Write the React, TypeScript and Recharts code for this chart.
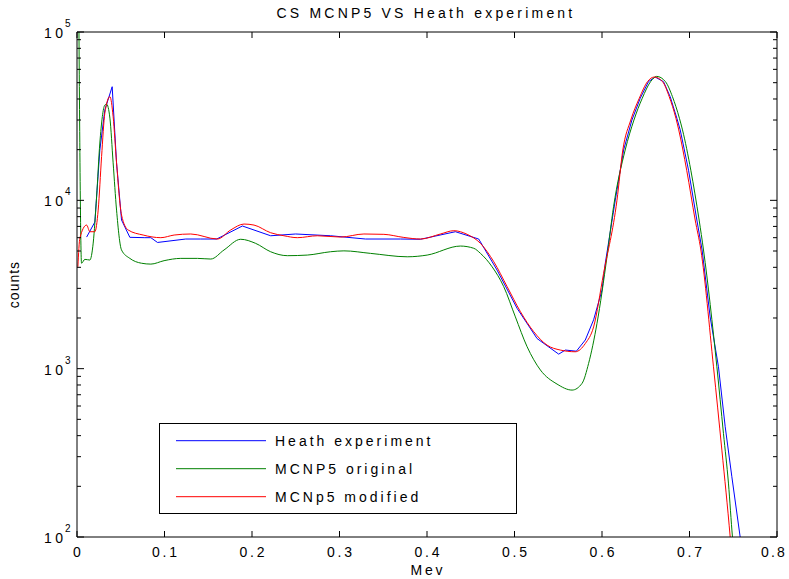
import React from 'react';
import { LineChart, Line, XAxis, YAxis } from 'recharts';

// energies (MeV) and counts
const heathX = [0.011, 0.0204, 0.0261, 0.0318, 0.0402, 0.0452, 0.0509, 0.0604, 0.0775, 0.0844, 0.092, 0.1243, 0.1414, 0.1597, 0.189, 0.2213, 0.2499, 0.2898, 0.3298, 0.3697, 0.3926, 0.4325, 0.4591, 0.4801, 0.503, 0.5258, 0.5505, 0.5581, 0.5707, 0.5809, 0.5904, 0.6, 0.6038, 0.6152, 0.6247, 0.6342, 0.6437, 0.6531, 0.6608, 0.6703, 0.6779, 0.6856, 0.6894, 0.6989, 0.7084, 0.7144, 0.7236, 0.7331, 0.7408, 0.7484, 0.7579, 0.764];
const heathY = [6050, 7430, 19900, 34400, 47300, 16700, 7640, 6030, 6000, 6000, 5620, 5890, 5890, 5890, 7040, 6160, 6310, 6160, 5890, 5890, 5870, 6510, 5890, 3850, 2280, 1510, 1220, 1290, 1270, 1480, 1950, 2930, 4240, 10050, 19900, 30000, 40400, 50700, 54000, 50700, 41300, 30700, 26200, 15100, 7640, 5070, 2030, 1026, 452, 228, 100, 70];

const originalX = [0.002, 0.0052, 0.009, 0.0147, 0.0185, 0.0224, 0.0261, 0.0318, 0.0338, 0.0376, 0.0413, 0.0452, 0.0509, 0.0604, 0.0737, 0.0844, 0.0995, 0.1186, 0.1377, 0.1529, 0.168, 0.1871, 0.2042, 0.2213, 0.2404, 0.2632, 0.2898, 0.305, 0.3355, 0.3774, 0.4002, 0.4382, 0.4534, 0.4611, 0.4744, 0.4877, 0.501, 0.5144, 0.5296, 0.5486, 0.5658, 0.5772, 0.5847, 0.5943, 0.6057, 0.6132, 0.6265, 0.6365, 0.646, 0.6555, 0.6625, 0.6725, 0.6805, 0.6885, 0.692, 0.7015, 0.711, 0.716, 0.7313, 0.7388, 0.7445, 0.7491, 0.752];
const originalY = [150000, 4230, 4460, 4420, 5570, 10500, 21900, 36800, 37300, 30800, 16700, 8750, 5070, 4520, 4230, 4180, 4380, 4520, 4520, 4480, 5070, 5870, 5550, 4950, 4690, 4730, 4950, 5010, 4840, 4620, 4730, 5350, 5190, 4840, 4030, 3070, 2030, 1350, 982, 810, 746, 818, 1075, 1860, 4620, 9160, 19900, 30000, 40400, 50700, 54500, 50700, 41300, 30700, 26200, 15100, 7640, 5070, 1026, 413, 209, 100, 70];

const modifiedX = [0.001, 0.0033, 0.011, 0.0147, 0.0204, 0.0242, 0.0281, 0.0318, 0.0376, 0.0413, 0.0452, 0.0509, 0.0584, 0.0756, 0.0958, 0.111, 0.13, 0.1605, 0.1757, 0.1909, 0.2023, 0.2213, 0.2365, 0.2518, 0.2747, 0.3013, 0.3279, 0.3507, 0.3735, 0.3926, 0.4154, 0.4306, 0.4459, 0.4611, 0.4763, 0.4916, 0.5068, 0.5219, 0.5372, 0.5524, 0.5695, 0.5809, 0.5904, 0.6018, 0.6171, 0.6238, 0.6329, 0.6426, 0.652, 0.6597, 0.6692, 0.6768, 0.6845, 0.6877, 0.6968, 0.7065, 0.713, 0.7274, 0.737, 0.7465, 0.749];
const modifiedY = [4030, 5970, 7130, 6510, 6510, 8750, 18200, 32900, 41300, 31400, 16700, 8180, 6670, 6220, 6000, 6220, 6310, 5890, 6670, 7230, 7130, 6420, 6160, 6000, 6160, 6050, 6310, 6280, 6020, 5890, 6310, 6600, 6280, 5550, 4320, 3070, 2180, 1660, 1380, 1290, 1260, 1410, 1770, 3680, 10000, 19900, 30000, 40400, 50700, 54000, 50700, 41300, 30700, 26200, 15100, 7640, 5070, 1026, 328, 100, 70];

const xTicks = [0, 0.1, 0.2, 0.3, 0.4, 0.5, 0.6, 0.7, 0.8];
const decades = [100, 1000, 10000];
const yTicks = [...decades.flatMap((d) => [1, 2, 3, 4, 5, 6, 7, 8, 9].map((k) => k * d)), 100000];

const toPoints = (xs: number[], ys: number[]) => xs.map((x, i) => ({ x, y: ys[i] }));
const heath = toPoints(heathX, heathY);
const original = toPoints(originalX, originalY);
const modified = toPoints(modifiedX, modifiedY);

const FONT = '"Liberation Sans", Arial, sans-serif';
const isMajor = (v: number) => Math.abs(Math.log10(v) - Math.round(Math.log10(v))) < 1e-6;

const BottomTick = ({ x, y, payload, index }: any) => {
  const last = index === xTicks.length - 1;
  return (
    <g>
      <line x1={x} x2={x} y1={y} y2={y - 6} stroke="#000" />
      <text
        x={last ? x + 10 : x + 1.4}
        y={y + 20}
        textAnchor={last ? 'end' : 'middle'}
        fontSize={14}
        letterSpacing={last ? 2.2 : 2.8}
        fill="#000"
      >
        {String(payload.value)}
      </text>
    </g>
  );
};

const TopTick = ({ x, y }: any) => <line x1={x} x2={x} y1={y} y2={y + 6} stroke="#000" />;

const LeftTick = ({ x, y, payload }: any) => {
  const v = payload.value;
  if (!isMajor(v)) return <line x1={x} x2={x + 4} y1={y} y2={y} stroke="#000" />;
  return (
    <g>
      <line x1={x} x2={x + 7} y1={y} y2={y} stroke="#000" />
      <text x={x - 33} y={y + 6} fontSize={14} fill="#000">
        1<tspan dx={3.5}>0</tspan>
      </text>
      <text x={x - 12} y={y - 5} fontSize={10} fill="#000">{Math.round(Math.log10(v))}</text>
    </g>
  );
};

const RightTick = ({ x, y, payload }: any) => (
  <line x1={x} x2={x - (isMajor(payload.value) ? 7 : 4)} y1={y} y2={y} stroke="#000" />
);

const legendItems = [
  { name: 'Heath experiment', color: '#0000ff' },
  { name: 'MCNP5 original', color: '#008000' },
  { name: 'MCNp5 modified', color: '#ff0000' },
];

export default function App() {
  return (
    <div style={{ position: 'absolute', left: 0, top: 0, width: 789, height: 579, background: '#fff', fontFamily: FONT }}>
      <LineChart width={789} height={579} margin={{ top: 0, right: 0, bottom: 0, left: 0 }}>
        <XAxis
          xAxisId="bottom"
          dataKey="x"
          type="number"
          domain={[0, 0.8]}
          ticks={xTicks}
          interval={0}
          allowDataOverflow
          height={42}
          tickSize={0}
          tickMargin={0}
          tickLine={false}
          axisLine={{ stroke: '#000' }}
          tick={<BottomTick />}
          label={({ viewBox }: any) => (
            <text x={viewBox.x + viewBox.width / 2 + 1} y={viewBox.y + 38} textAnchor="middle" fontSize={14} letterSpacing={2.8} fill="#000">
              Mev
            </text>
          )}
        />
        <XAxis
          xAxisId="top"
          orientation="top"
          dataKey="x"
          type="number"
          domain={[0, 0.8]}
          ticks={xTicks}
          interval={0}
          allowDataOverflow
          height={32}
          tickSize={0}
          tickMargin={0}
          tickLine={false}
          axisLine={{ stroke: '#000' }}
          tick={<TopTick />}
          label={({ viewBox }: any) => (
            <text x={viewBox.x + viewBox.width / 2 - 1} y={18} textAnchor="middle" fontSize={14} letterSpacing={3.2} fill="#000">
              CS MCNP5 VS Heath experiment
            </text>
          )}
        />
        <YAxis
          yAxisId="left"
          scale="log"
          domain={[100, 100000]}
          ticks={yTicks}
          interval={0}
          allowDataOverflow
          width={77}
          tickSize={0}
          tickMargin={0}
          tickLine={false}
          axisLine={{ stroke: '#000' }}
          tick={<LeftTick />}
          label={({ viewBox }: any) => (
            <text
              x={19}
              y={viewBox.y + viewBox.height / 2}
              transform={`rotate(-90 19 ${viewBox.y + viewBox.height / 2})`}
              textAnchor="middle"
              fontSize={14}
              letterSpacing={1}
              fill="#000"
            >
              counts
            </text>
          )}
        />
        <YAxis
          yAxisId="right"
          orientation="right"
          scale="log"
          domain={[100, 100000]}
          ticks={yTicks}
          interval={0}
          allowDataOverflow
          width={12}
          tickSize={0}
          tickMargin={0}
          tickLine={false}
          axisLine={{ stroke: '#000' }}
          tick={<RightTick />}
        />
        <Line data={heath} dataKey="y" xAxisId="bottom" yAxisId="left" type="linear" stroke="#0000ff" strokeWidth={1} dot={false} isAnimationActive={false} />
        <Line data={original} dataKey="y" xAxisId="bottom" yAxisId="left" type="monotone" stroke="#008000" strokeWidth={1} dot={false} isAnimationActive={false} />
        <Line data={modified} dataKey="y" xAxisId="bottom" yAxisId="left" type="monotone" stroke="#ff0000" strokeWidth={1} dot={false} isAnimationActive={false} />
      </LineChart>
      <svg width={359} height={92} style={{ position: 'absolute', left: 159, top: 423 }}>
        <rect x={0.5} y={0.5} width={357} height={90} fill="#fff" stroke="#000" />
        {legendItems.map((item, i) => {
          const cy = 17.7 + i * 28;
          return (
            <g key={item.name}>
              <line x1={17} x2={107} y1={cy} y2={cy} stroke={item.color} />
              <text x={116} y={cy + 5} fontSize={14} letterSpacing={3} fill="#000">
                {item.name}
              </text>
            </g>
          );
        })}
      </svg>
    </div>
  );
}
